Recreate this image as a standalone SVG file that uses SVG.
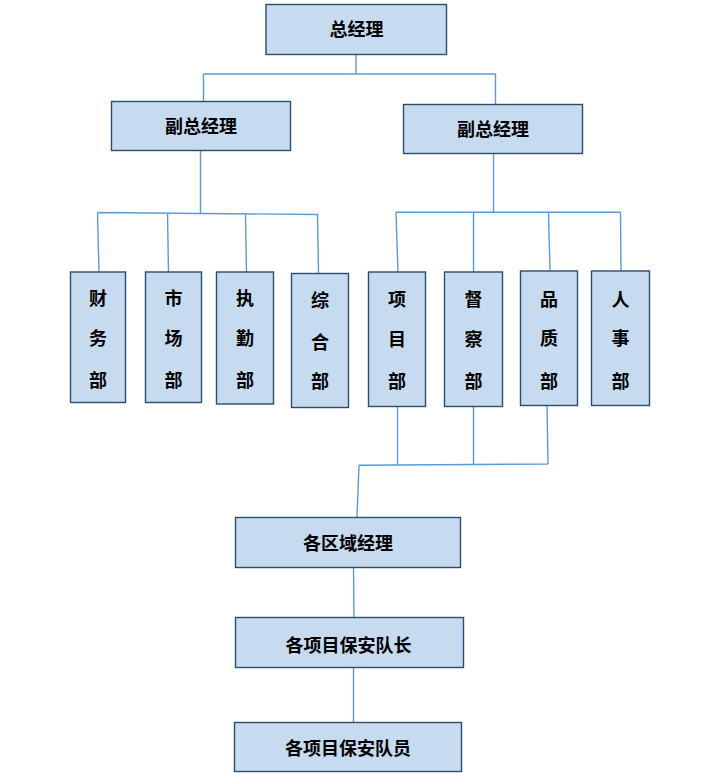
<svg xmlns="http://www.w3.org/2000/svg" width="722" height="780" viewBox="0 0 722 780">
<style>
.box{fill:#C6DBEF;stroke:#2E4D6E;stroke-width:1.4}
.lbl{font-family:"Liberation Serif","Noto Sans CJK SC",serif;font-size:18px;font-weight:bold;fill:#000;text-anchor:middle}
.con{fill:none;stroke:#5B9BD5;stroke-width:1.4}
</style>
<rect width="722" height="780" fill="#fff"/>
<g id="connectors">
<path class="con" d="M356,54 V74 M203.5,74 H495.5 M203.5,74 V101 M495.5,74 V104"/>
<path class="con" d="M200.5,150 V213 M97.5,212.5 L318,214.5 M97.5,212.5 L99,272 M167.5,213 L168.5,272 M245.5,213.5 L246.5,272 M317.5,214.5 L318.5,273"/>
<path class="con" d="M493.5,153 V212 M396,212.3 H620.5 M396,212.3 L398,272 M473.5,212.3 V275 M548.5,212.3 L550,271 M620.5,212.3 L621,271"/>
<path class="con" d="M397.5,406 V465 M473.5,406 V464.5 M547,405 L548,464 M359,465.3 L548,464 M359,465.3 L357,517"/>
<path class="con" d="M353.5,567 L354,617 M353.5,667 V722"/>
</g>
<g id="gm"><rect class="box" x="266" y="4.5" width="180.5" height="50"/><text class="lbl" x="356.5" y="36">总经理</text></g>
<g id="vp1"><rect class="box" x="111.5" y="101.5" width="179" height="49"/><text class="lbl" x="201" y="133">副总经理</text></g>
<g id="vp2"><rect class="box" x="403.5" y="104.5" width="179" height="49"/><text class="lbl" x="493" y="136">副总经理</text></g>
<g id="d1"><rect class="box" x="70.5" y="272" width="55" height="130.5"/><text class="lbl" x="98"><tspan x="98" y="304.5">财</tspan><tspan x="98" y="344.5">务</tspan><tspan x="98" y="386.5">部</tspan></text></g>
<g id="d2"><rect class="box" x="145.5" y="272" width="56" height="130.5"/><text class="lbl" x="173.5"><tspan x="173.5" y="304.5">市</tspan><tspan x="173.5" y="344.5">场</tspan><tspan x="173.5" y="386.5">部</tspan></text></g>
<g id="d3"><rect class="box" x="216.5" y="272" width="57" height="132"/><text class="lbl" x="245"><tspan x="245" y="304.5">执</tspan><tspan x="245" y="345">勤</tspan><tspan x="245" y="387">部</tspan></text></g>
<g id="d4"><rect class="box" x="291.5" y="273.5" width="57" height="134"/><text class="lbl" x="320"><tspan x="320" y="306.5">综</tspan><tspan x="320" y="349">合</tspan><tspan x="320" y="388">部</tspan></text></g>
<g id="d5"><rect class="box" x="368.5" y="272" width="57" height="134.5"/><text class="lbl" x="397"><tspan x="397" y="305.5">项</tspan><tspan x="397" y="345.5">目</tspan><tspan x="397" y="388">部</tspan></text></g>
<g id="d6"><rect class="box" x="444.5" y="272" width="58" height="134.5"/><text class="lbl" x="473.5"><tspan x="473.5" y="305.5">督</tspan><tspan x="473.5" y="345.5">察</tspan><tspan x="473.5" y="388">部</tspan></text></g>
<g id="d7"><rect class="box" x="520.5" y="271" width="57" height="134.5"/><text class="lbl" x="549"><tspan x="549" y="305.5">品</tspan><tspan x="549" y="345">质</tspan><tspan x="549" y="388">部</tspan></text></g>
<g id="d8"><rect class="box" x="591.5" y="271" width="58" height="134.5"/><text class="lbl" x="620.5"><tspan x="620.5" y="305.5">人</tspan><tspan x="620.5" y="345">事</tspan><tspan x="620.5" y="388">部</tspan></text></g>
<g id="area"><rect class="box" x="235.5" y="517.5" width="225" height="50"/><text class="lbl" x="348" y="550">各区域经理</text></g>
<g id="leader"><rect class="box" x="235.5" y="617.5" width="228" height="50"/><text class="lbl" x="348.5" y="651.5">各项目保安队长</text></g>
<g id="guard"><rect class="box" x="234.5" y="722.5" width="227" height="49"/><text class="lbl" x="348" y="755">各项目保安队员</text></g>
</svg>
